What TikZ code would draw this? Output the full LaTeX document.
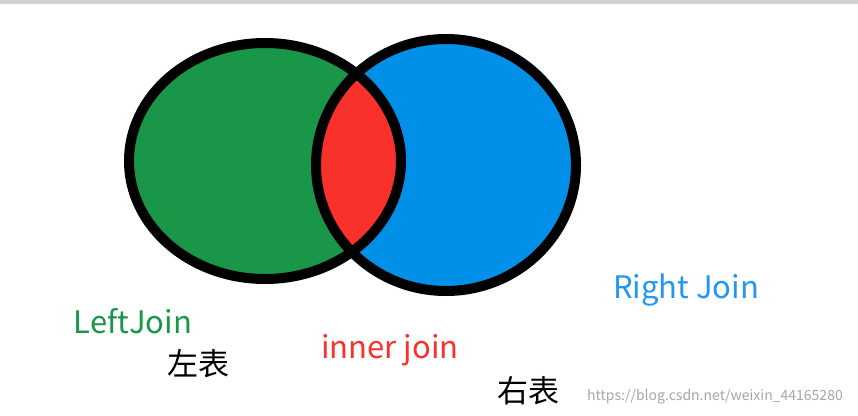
\documentclass[tikz,border=0pt]{standalone}
\usepackage{fontspec}
\setmainfont{Noto Sans CJK SC}
\definecolor{gr}{HTML}{1A9649}
\definecolor{bl}{HTML}{0090E8}
\definecolor{rd}{HTML}{F8312A}
\definecolor{lbl}{HTML}{2196F3}
\begin{document}
\begin{tikzpicture}[x=1pt,y=-1pt,
 lab/.style={inner sep=0pt,font=\fontsize{31}{33}\selectfont}]
\useasboundingbox (0,0) rectangle (858,415);
\fill[white] (0,0) rectangle (858,415);
\fill[gray!35] (0,0) rectangle (858,4);
\fill[gr] (265,161) ellipse [x radius=136, y radius=118];
\fill[bl] (446,165) ellipse [x radius=130, y radius=126];
\begin{scope}
\clip (265,161) ellipse [x radius=136, y radius=118];
\fill[rd] (446,165) ellipse [x radius=130, y radius=126];
\end{scope}
\draw[line width=10pt] (265,161) ellipse [x radius=136, y radius=118];
\draw[line width=10pt] (446,165) ellipse [x radius=130, y radius=126];
\node[lab,text=gr] (lj) at (133,321) {LeftJoin};
\node[lab] (lt) at (198,364) {左表};
\node[lab,text=rd] (ij) at (390,350) {inner join};
\node[lab] (rt) at (528,391) {右表};
\node[lab,text=lbl] (rj) at (686,290) {Right Join};
\node[inner sep=0pt,text=gray!70,font=\fontsize{14}{16}\selectfont] (wm) at (715,397) {https://blog.csdn.net/weixin\_44165280};
\end{tikzpicture}
\end{document}
